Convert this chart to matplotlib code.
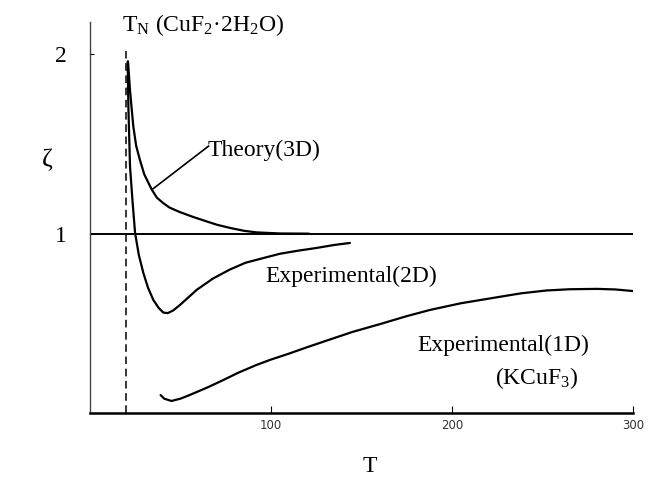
import matplotlib
matplotlib.use("Agg")
import matplotlib.pyplot as plt

plt.rcParams['font.family'] = ['Liberation Serif', 'DejaVu Serif']
plt.rcParams['mathtext.fontset'] = 'custom'
plt.rcParams['mathtext.rm'] = 'Liberation Serif'
plt.rcParams['mathtext.it'] = 'Liberation Serif:italic'

# values (T in K, zeta dimensionless)
theory_T = [21.0, 22.1, 23.9, 25.5, 27.6, 30, 34.1, 37, 40.5, 44, 49.7, 57, 64.5, 70, 77.3, 85, 92, 105, 121]
theory_z = [1.96, 1.80, 1.60, 1.49, 1.41, 1.33, 1.246, 1.20, 1.17, 1.145, 1.12, 1.093, 1.068, 1.05, 1.032, 1.016, 1.007, 1.001, 1.0]

exp2d_T = [20.8, 21.2, 22.1, 23.5, 24.9, 27, 29.5, 32, 35, 38, 40.5, 43, 46, 50, 59, 68, 77.3, 86, 95.8, 105, 115, 125, 135, 143.6]
exp2d_z = [1.96, 1.71, 1.376, 1.18, 1.004, 0.88, 0.78, 0.70, 0.63, 0.585, 0.56, 0.557, 0.572, 0.605, 0.687, 0.75, 0.80, 0.838, 0.864, 0.888, 0.905, 0.92, 0.937, 0.948]

exp1d_T = [39, 41, 45, 50, 55, 65, 73.7, 82, 92, 100, 110.5, 120, 132.6, 145, 160, 175, 188, 205, 224.7, 238, 252, 265, 280, 290, 300]
exp1d_z = [0.10, 0.08, 0.067, 0.08, 0.10, 0.143, 0.184, 0.225, 0.268, 0.298, 0.333, 0.367, 0.41, 0.452, 0.495, 0.54, 0.575, 0.612, 0.645, 0.667, 0.683, 0.69, 0.692, 0.689, 0.68]

T_N = 20
ref_level = 1
xticks = [100, 200, 300]
yticks = [1, 2]

fig = plt.figure(figsize=(6.49, 4.78), dpi=100)
ax = fig.add_axes([90/649, 1-413/478, 543/649, 391/478])

for xs, ys in [(theory_T, theory_z), (exp2d_T, exp2d_z), (exp1d_T, exp1d_z)]:
    ax.plot(xs, ys, color='black', lw=1.6, solid_joinstyle='round', solid_capstyle='round')
ax.axhline(ref_level, color='black', lw=1.4)
ax.vlines(T_N, 0, 2.02, colors='black', lw=1.1, linestyles=(0, (5, 3)))

# leader line to the theory label
ax.plot([34.3, 65.5], [1.246, 1.488], color='black', lw=1.2)

ax.text(65.2, 1.466, 'Theory(3D)', fontsize=17, va='center', ha='left')
ax.text(96.7, 0.764, 'Experimental(2D)', fontsize=17, va='center', ha='left')
ax.text(180.7, 0.379, 'Experimental(1D)', fontsize=17, va='center', ha='left')
ax.text(223.8, 0.195, '(KCuF$_3$)', fontsize=17, va='center', ha='left')

fig.text(122/649, 1-25/478, 'T$_{\\rm N}$ (CuF$_2$\u00b72H$_2$O)', fontsize=17,
         va='center', ha='left')

ax.set_xlim(0, 300)
ax.set_ylim(0, 2.18)
ax.set_xticks(xticks)
ax.set_xticklabels([str(v) for v in xticks], family='DejaVu Sans', fontsize=8.5, color='#333333')
ax.set_yticks(yticks)
ax.set_yticklabels([str(v) for v in yticks], fontsize=17)
ax.tick_params(axis='x', direction='in', length=5, width=0.8, pad=4)
ax.tick_params(axis='y', direction='in', length=3, width=0.8, pad=17)

ax.spines['top'].set_visible(False)
ax.spines['right'].set_visible(False)
ax.spines['left'].set_color('#444444')
ax.spines['left'].set_linewidth(1.0)
ax.spines['bottom'].set_linewidth(1.8)

ax.set_xlabel('T', fontsize=17)
ax.xaxis.set_label_coords((370-90)/543, -0.11)
ax.set_ylabel('\u03b6', fontsize=19, rotation=0, va='center', ha='center')
ax.yaxis.set_label_coords(-(90-47)/543, (413-160)/391)

fig.savefig('out.png', dpi=100)
